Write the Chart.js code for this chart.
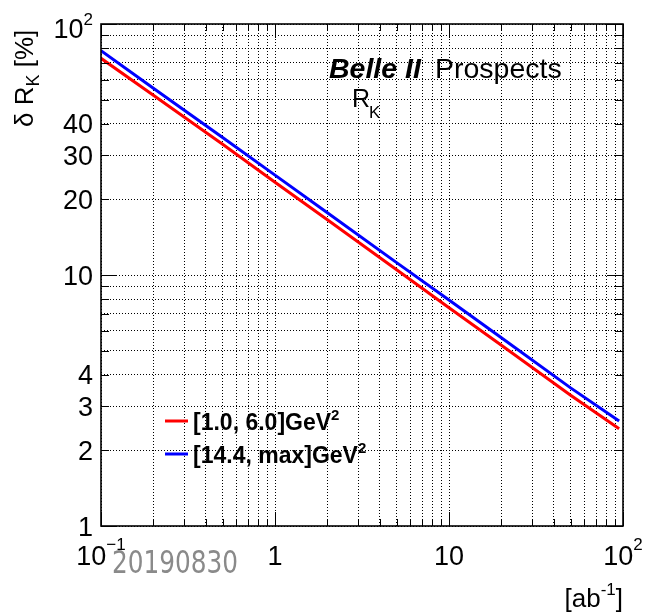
<!DOCTYPE html>
<html>
<head>
<meta charset="utf-8">
<script src="https://cdn.jsdelivr.net/npm/chart.js@4"></script>
<style>
  html, body { margin: 0; padding: 0; background: #fff; }
  canvas { display: block; }
</style>
</head>
<body>
<canvas id="c" width="645" height="613"></canvas>
<script>
// Integrated luminosity [ab^-1]
const luminosity = [0.1, 0.2, 0.5, 1, 2, 5, 10, 20, 50, 95];
// Expected relative uncertainty on R_K [%] for the two q^2 bins
const lowQ2 = [73, 52, 33.2, 23.4, 16.6, 10.5, 7.4, 5.25, 3.32, 2.44];
const highQ2 = [78.3, 55.5, 35.3, 25.0, 17.7, 11.2, 7.95, 5.62, 3.55, 2.62];
const seriesNames = ['[1.0, 6.0]GeV', '[14.4, max]GeV'];
const seriesColors = ['#ff0000', '#0000ff'];

// Log-axis grid positions (every 1..9 x decade)
const xGridValues = [0.1,0.2,0.3,0.4,0.5,0.6,0.7,0.8,0.9,1,2,3,4,5,6,7,8,9,10,20,30,40,50,60,70,80,90,100];
const yGridValues = [1,2,3,4,5,6,7,8,9,10,20,30,40,50,60,70,80,90,100];
const xMajorValues = [0.1, 1, 10, 100];
const yMajorValues = [1, 10, 100];
// Tick labels: value, base text, superscript
const xTickLabels = [[0.1, '10', '\u22121'], [1, '1', ''], [10, '10', ''], [100, '10', '2']];
const yTickLabels = [[1, '1', ''], [2, '2', ''], [3, '3', ''], [4, '4', ''], [10, '10', ''],
                     [20, '20', ''], [30, '30', ''], [40, '40', ''], [100, '10', '2']];

const FAM = '"Liberation Sans", Arial, Helvetica, sans-serif';
function font(size, style) { return (style ? style + ' ' : '') + size + 'px ' + FAM; }

// Draw "base^sup" with a given horizontal alignment; returns total width
function supText(ctx, x, y, base, sup, size, supSize, rise, align, style) {
  ctx.font = font(size, style);
  const wb = ctx.measureText(base).width;
  ctx.font = font(supSize, style);
  const ws = sup ? ctx.measureText(sup).width : 0;
  const total = wb + ws;
  const x0 = align === 'center' ? x - total / 2 : align === 'right' ? x - total : x;
  ctx.textAlign = 'left';
  ctx.textBaseline = 'alphabetic';
  ctx.font = font(size, style);
  ctx.fillText(base, x0, y);
  if (sup) {
    ctx.font = font(supSize, style);
    ctx.fillText(sup, x0 + wb, y - rise);
  }
  return total;
}

const decorations = {
  id: 'decorations',
  afterDraw(chart) {
    const ctx = chart.ctx;
    const xs = chart.scales.x, ys = chart.scales.y;
    const L = chart.chartArea.left, R = chart.chartArea.right;
    const T = chart.chartArea.top, B = chart.chartArea.bottom;
    ctx.save();
    ctx.fillStyle = '#000';
    ctx.strokeStyle = '#000';

    // inward tick marks on all four sides
    ctx.lineWidth = 1;
    ctx.beginPath();
    xGridValues.forEach(v => {
      const px = Math.round(xs.getPixelForValue(v)) + 0.5;
      const len = xMajorValues.includes(v) ? 14 : 7;
      ctx.moveTo(px, B); ctx.lineTo(px, B - len);
      ctx.moveTo(px, T); ctx.lineTo(px, T + len);
    });
    yGridValues.forEach(v => {
      const py = Math.round(ys.getPixelForValue(v)) + 0.5;
      const len = yMajorValues.includes(v) ? 16 : 8;
      ctx.moveTo(L, py); ctx.lineTo(L + len, py);
      ctx.moveTo(R, py); ctx.lineTo(R - len, py);
    });
    ctx.stroke();

    // frame
    ctx.lineWidth = 1.6;
    ctx.strokeRect(L, T, R - L, B - T);

    // x tick labels
    xTickLabels.forEach(([v, b, s]) => {
      supText(ctx, xs.getPixelForValue(v), 565, b, s, 27, 17, 15, 'center');
    });
    // y tick labels
    yTickLabels.forEach(([v, b, s]) => {
      const py = ys.getPixelForValue(v);
      const base = s ? py + 14 : py + 9.5;
      supText(ctx, 93, base, b, s, 27, 17, 13, 'right');
    });

    // y axis title, rotated
    ctx.save();
    ctx.translate(33, 127);
    ctx.rotate(-Math.PI / 2);
    ctx.textAlign = 'left';
    ctx.textBaseline = 'alphabetic';
    let cx = 0;
    ctx.font = font(26);
    ctx.fillText('\u03b4 R', cx, 0);
    cx += ctx.measureText('\u03b4 R').width;
    ctx.font = font(18);
    ctx.fillText('K', cx, 6);
    cx += ctx.measureText('K').width;
    ctx.font = font(26);
    ctx.fillText(' [%]', cx, 0);
    ctx.restore();

    // x axis title, right-aligned to the frame
    {
      ctx.font = font(26);
      const w1 = ctx.measureText('[ab').width;
      const w3 = ctx.measureText(']').width;
      ctx.font = font(17);
      const w2 = ctx.measureText('-1').width;
      let x0 = R - (w1 + w2 + w3);
      ctx.textAlign = 'left';
      ctx.font = font(26);
      ctx.fillText('[ab', x0, 607);
      ctx.font = font(17);
      ctx.fillText('-1', x0 + w1, 595);
      ctx.font = font(26);
      ctx.fillText(']', x0 + w1 + w2, 607);
    }

    // experiment label
    ctx.textAlign = 'left';
    ctx.font = font(28.5, 'italic bold');
    ctx.fillText('Belle II', 329, 78);
    ctx.font = font(28.5);
    ctx.fillText('Prospects', 435, 78);
    ctx.font = font(25);
    ctx.fillText('R', 352, 107);
    ctx.font = font(17);
    ctx.fillText('K', 369, 118);

    // legend
    const legendY = [421, 454];
    chart.data.datasets.forEach((ds, i) => {
      const y = legendY[i];
      ctx.strokeStyle = ds.borderColor;
      ctx.lineWidth = 3;
      ctx.beginPath();
      ctx.moveTo(165, y); ctx.lineTo(188, y);
      ctx.stroke();
      ctx.fillStyle = '#000';
      supText(ctx, 193, y + 8.5, seriesNames[i], '2', 23, 15, 10, 'left', 'bold');
    });

    // date stamp
    {
      ctx.font = '32px "Liberation Sans Narrow", "DejaVu Sans Condensed", ' + FAM;
      const txt = '20190830';
      const w = ctx.measureText(txt).width;
      ctx.save();
      ctx.translate(112, 573);
      ctx.scale(126 / w, 1);
      ctx.fillStyle = '#8a8a8a';
      ctx.textAlign = 'left';
      ctx.fillText(txt, 0, 0);
      ctx.restore();
    }
    ctx.restore();
  }
};

const gridOpts = { color: '#000', lineWidth: 1, drawTicks: false };
const borderOpts = { display: false, dash: [1, 2] };

new Chart(document.getElementById('c'), {
  type: 'scatter',
  data: {
    datasets: [
      { label: seriesNames[0], data: luminosity.map((x, i) => ({ x, y: lowQ2[i] })),
        borderColor: seriesColors[0], backgroundColor: seriesColors[0] },
      { label: seriesNames[1], data: luminosity.map((x, i) => ({ x, y: highQ2[i] })),
        borderColor: seriesColors[1], backgroundColor: seriesColors[1] }
    ]
  },
  options: {
    responsive: false,
    animation: false,
    devicePixelRatio: 1,
    layout: { padding: { left: 101, right: 22, top: 24, bottom: 87 } },
    elements: {
      line: { borderWidth: 3, tension: 0 },
      point: { radius: 0, hoverRadius: 0 }
    },
    datasets: { scatter: { showLine: true } },
    plugins: { legend: { display: false }, tooltip: { enabled: false } },
    scales: {
      x: {
        type: 'logarithmic', min: 0.1, max: 100,
        afterBuildTicks: s => { s.ticks = xGridValues.map(v => ({ value: v })); },
        afterFit: s => { s.height = 0; },
        ticks: { display: false },
        grid: gridOpts, border: borderOpts
      },
      y: {
        type: 'logarithmic', min: 1, max: 100,
        afterBuildTicks: s => { s.ticks = yGridValues.map(v => ({ value: v })); },
        afterFit: s => { s.width = 0; },
        ticks: { display: false },
        grid: gridOpts, border: borderOpts
      }
    }
  },
  plugins: [decorations]
});
</script>
</body>
</html>
